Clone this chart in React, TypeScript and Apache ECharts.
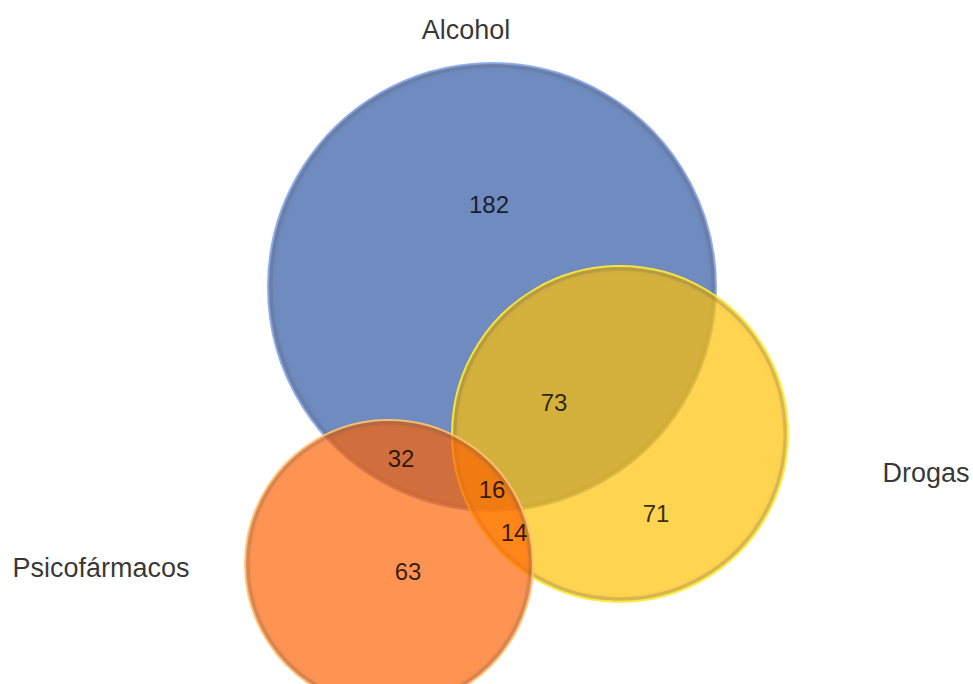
import React, { useEffect, useRef } from "react";
import * as echarts from "echarts";

// Sets of the Venn diagram (centre and radius in plot units, y grows downward)
const setNames = ["Alcohol", "Drogas", "Psicofármacos"];
const setCx = [492, 620, 389];
const setCy = [287, 434, 564];
const setR = [224, 168, 144];
const setColors = ["rgba(111,139,191,1)", "rgba(255,194,5,0.70)", "rgba(255,97,0,0.68)"];
const setRims = ["rgba(140,170,235,0.9)", "rgba(255,240,60,0.9)", "rgba(255,200,120,0.9)"];

// Set name labels
const nameX = [466, 926, 101];
const nameY = [30, 473, 568];

// Region counts and where they sit
const regionValues = [182, 73, 71, 32, 16, 14, 63];
const regionX = [489, 554, 656, 401, 492, 514, 408];
const regionY = [204, 402, 513, 458, 489, 532, 571];

const FONT = "'Liberation Sans', Arial, sans-serif";

export default function App() {
  const ref = useRef<HTMLDivElement>(null);

  useEffect(() => {
    document.body.style.margin = "0";
    if (!ref.current) return;
    const chart = echarts.init(ref.current, undefined, { renderer: "svg" });

    const circleData = setNames.map((n, i) => [setCx[i], setCy[i], setR[i], i]);
    const regionData = regionValues.map((v, i) => ({ value: [regionX[i], regionY[i]], name: String(v) }));
    const nameData = setNames.map((n, i) => ({ value: [nameX[i], nameY[i]], name: n }));

    chart.setOption({
      animation: false,
      backgroundColor: "#ffffff",
      grid: { left: 0, right: 0, top: 0, bottom: 0 },
      xAxis: { type: "value", min: 0, max: 973, show: false },
      yAxis: { type: "value", min: 0, max: 684, inverse: true, show: false },
      series: [
        {
          type: "custom",
          coordinateSystem: "cartesian2d",
          data: circleData,
          encode: { x: 0, y: 1 },
          clip: false,
          renderItem: (params: any, api: any) => {
            const c = api.coord([api.value(0), api.value(1)]);
            const r = api.size([api.value(2), 0])[0];
            const k = api.value(3);
            return {
              type: "group",
              children: [
                {
                  type: "circle",
                  shape: { cx: c[0], cy: c[1], r: r },
                  style: { fill: setColors[k], stroke: setRims[k], lineWidth: 2 },
                },
                {
                  type: "circle",
                  shape: { cx: c[0], cy: c[1], r: r - 3 },
                  style: {
                    fill: "none",
                    stroke: "rgba(90,90,90,0.22)",
                    lineWidth: 3,
                    shadowBlur: 4,
                    shadowColor: "rgba(60,60,60,0.3)",
                  },
                },
              ],
            };
          },
        },
        {
          type: "scatter",
          data: regionData,
          symbolSize: 0,
          silent: true,
          label: {
            show: true,
            position: "inside",
            formatter: (p: any) => p.name,
            color: "#000",
            fontSize: 24,
            fontFamily: FONT,
          },
        },
        {
          type: "scatter",
          data: nameData,
          symbolSize: 0,
          silent: true,
          label: {
            show: true,
            position: "inside",
            formatter: (p: any) => p.name,
            color: "#000",
            fontSize: 27,
            fontFamily: FONT,
          },
        },
      ],
    });

    return () => chart.dispose();
  }, []);

  return <div ref={ref} style={{ width: 973, height: 684 }} />;
}
